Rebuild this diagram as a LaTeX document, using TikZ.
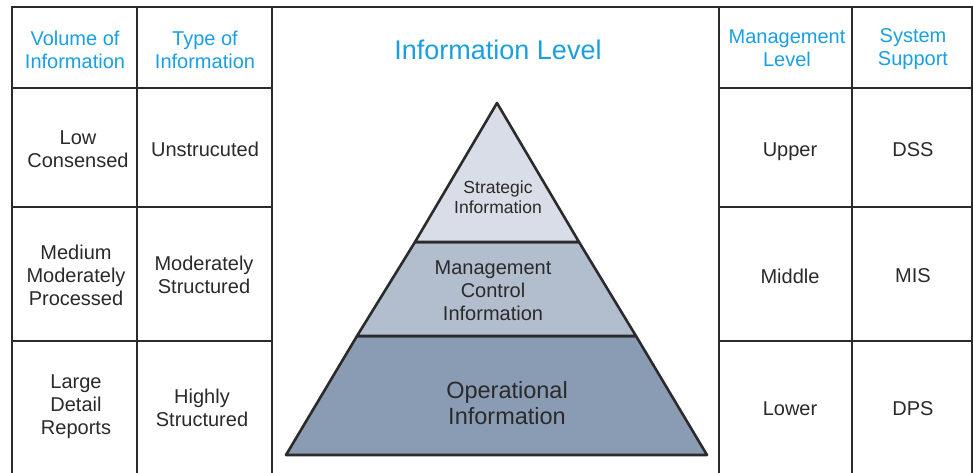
\documentclass[tikz,border=0pt]{standalone}
\usepackage{fontspec}
\setmainfont{Liberation Sans}
\definecolor{hdrblue}{HTML}{1AA0E0}
\definecolor{txtgray}{HTML}{2A2A2A}
\definecolor{linegray}{HTML}{2B2B2B}
\definecolor{lvlone}{HTML}{D9DDE7}
\definecolor{lvltwo}{HTML}{B2BDCE}
\definecolor{lvlthree}{HTML}{8A9BB4}
\begin{document}
\begin{tikzpicture}[x=1pt,y=-1pt,
  gridline/.style={draw=linegray,line width=2.4pt},
  pyrpart/.style={draw=linegray,line width=2.6pt,line join=round},
  hdr/.style={align=center,text=hdrblue,font=\fontsize{20}{22.5}\selectfont,inner sep=0pt},
  cell/.style={align=center,text=txtgray,font=\fontsize{20}{23}\selectfont,inner sep=0pt},
  title/.style={align=center,text=hdrblue,font=\fontsize{27}{30}\selectfont,inner sep=0pt},
  pyrtxt/.style={align=center,text=txtgray,inner sep=0pt}]
\useasboundingbox (0,0) rectangle (973,473);
\fill[white] (0,0) rectangle (973,473);
% grid
\draw[gridline] (12,7) -- (972,7);
\draw[gridline] (12,6) -- (12,473);
\draw[gridline] (137,7) -- (137,473);
\draw[gridline] (272,7) -- (272,473);
\draw[gridline] (719,7) -- (719,473);
\draw[gridline] (852,7) -- (852,473);
\draw[gridline] (972,6) -- (972,473);
\foreach \yy in {88,207,341}{
  \draw[gridline] (12,\yy) -- (272,\yy);
  \draw[gridline] (719,\yy) -- (972,\yy);
}
% pyramid
\coordinate (apex) at (497,103);
\coordinate (sl) at (415,242);
\coordinate (sr) at (579,242);
\coordinate (ml) at (357,336);
\coordinate (mr) at (636,336);
\coordinate (bl) at (286,455);
\coordinate (br) at (707,455);
\filldraw[pyrpart,fill=lvlthree] (ml) -- (mr) -- (br) -- (bl) -- cycle;
\filldraw[pyrpart,fill=lvltwo] (sl) -- (sr) -- (mr) -- (ml) -- cycle;
\filldraw[pyrpart,fill=lvlone] (apex) -- (sr) -- (sl) -- cycle;
% texts
\node[title] (ttl) at (498,50) {Information Level};
\node[hdr] (h1) at (75,50) {Volume of\\Information};
\node[hdr] (h2) at (205,50) {Type of\\Information};
\node[hdr] (h3) at (787,48) {Management\\Level};
\node[hdr] (h4) at (913,49) {System\\Support};
\node[cell] (a1) at (78,149) {Low\\Consensed};
\node[cell] (b1) at (205,149) {Unstrucuted};
\node[cell] (c1) at (790,152) {Upper};
\node[cell] (d1) at (913,150) {DSS};
\node[cell] (a2) at (76,275) {Medium\\Moderately\\Processed};
\node[cell] (b2) at (204,275) {Moderately\\Structured};
\node[cell] (c2) at (790,276) {Middle};
\node[cell] (d2) at (913,276) {MIS};
\node[cell] (a3) at (76,407) {Large\\Detail\\Reports};
\node[cell] (b3) at (202,408) {Highly\\Structured};
\node[cell] (c3) at (790,409) {Lower};
\node[cell] (d3) at (913,409) {DPS};
\node[pyrtxt,font=\fontsize{17.5}{20}\selectfont] (p1) at (498,197) {Strategic\\Information};
\node[pyrtxt,font=\fontsize{20}{23}\selectfont] (p2) at (493,291) {Management\\Control\\Information};
\node[pyrtxt,font=\fontsize{23.5}{25.5}\selectfont] (p3) at (507,403) {Operational\\Information};
\end{tikzpicture}
\end{document}
